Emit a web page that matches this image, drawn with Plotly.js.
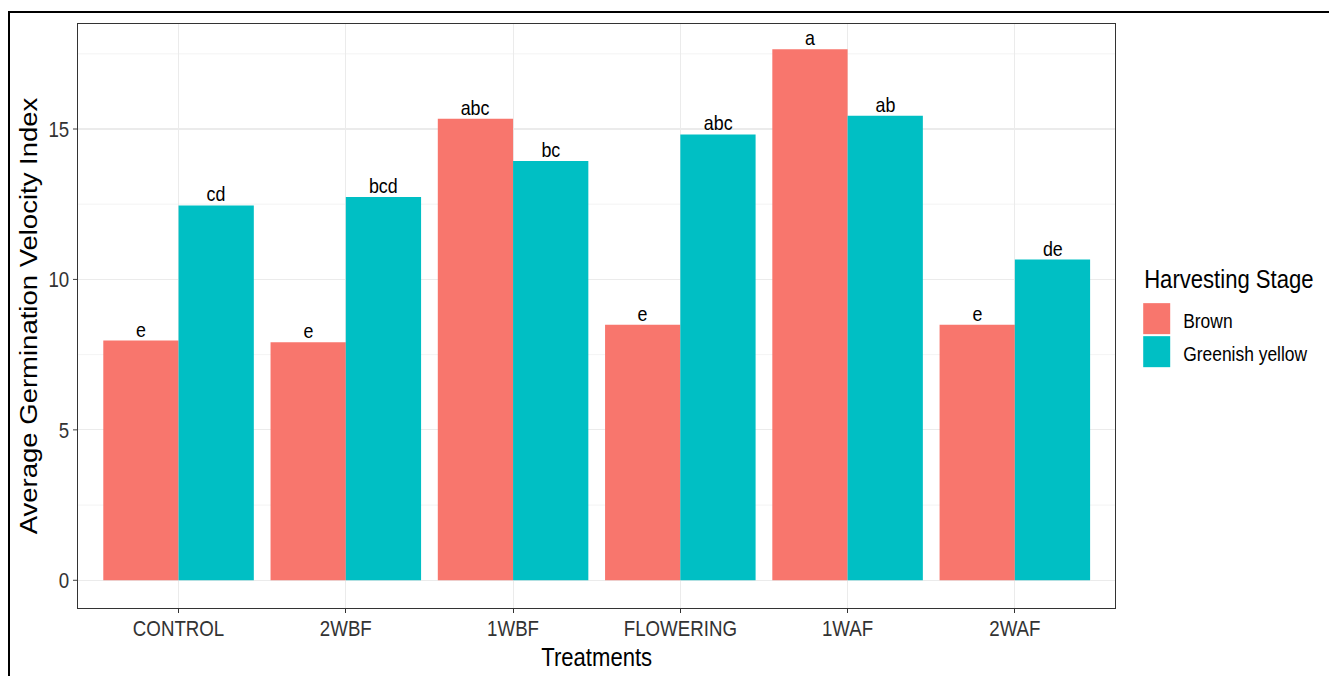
<!DOCTYPE html>
<html>
<head>
<meta charset="utf-8">
<script src="https://cdn.plot.ly/plotly-3.0.1.min.js"></script>
<style>
  html, body { margin: 0; padding: 0; background: #fff; overflow: hidden; }
  #wrap { position: absolute; left: 0; top: 0; width: 1329px; height: 676px; overflow: hidden; }
  #chart { transform-origin: 0 0; }
  #frame { position: absolute; left: 8px; top: 11px; width: 1400px; height: 700px;
           border-top: 2px solid #000; border-left: 2px solid #000; pointer-events: none; }
</style>
</head>
<body>
<div id="wrap"><div id="chart"></div></div>
<div id="frame"></div>
<script>
// ---- data ----
const treatments = ["CONTROL", "2WBF", "1WBF", "FLOWERING", "1WAF", "2WAF"];
const seriesNames = ["Brown", "Greenish yellow"];
const brownValues = [7.97, 7.91, 15.34, 8.49, 17.65, 8.49];
const greenValues = [12.46, 12.74, 13.94, 14.82, 15.44, 10.66];
const brownLetters = ["e", "e", "abc", "e", "a", "e"];
const greenLetters = ["cd", "bcd", "bc", "abc", "ab", "de"];
const seriesColors = ["#F8766D", "#00BFC4"];
const yTicks = [0, 5, 10, 15];

const FONT = "Liberation Sans, Arial, sans-serif";

// the reference is rendered slightly condensed horizontally
const SX = 0.85;
const W = 1329, H = 676;
const WU = W / SX;

// plot area in (real) pixels
const L = 78, R = 1115, T = 24, B = 607.7;
const px = v => (v - L) / (R - L);
const py = v => (B - v) / (B - T);

const traces = [
  { type: "bar", name: seriesNames[0], x: treatments, y: brownValues,
    marker: { color: seriesColors[0], line: { width: 0 } }, showlegend: false },
  { type: "bar", name: seriesNames[1], x: treatments, y: greenValues,
    marker: { color: seriesColors[1], line: { width: 0 } }, showlegend: false }
];

const annotations = [];
// significance letters above the bars
const offsets = [-0.225, 0.225];
[brownLetters, greenLetters].forEach((letters, s) => {
  const vals = s === 0 ? brownValues : greenValues;
  letters.forEach((t, i) => {
    annotations.push({ xref: "x", yref: "y", x: i + offsets[s], y: vals[i],
      xanchor: "center", yanchor: "bottom", yshift: -2, text: t, showarrow: false,
      font: { family: FONT, size: 21, color: "#000" } });
  });
});

// custom legend (ggplot style large keys)
const shapes = [];
annotations.push({ xref: "paper", yref: "paper", x: px(1142), y: py(279), xanchor: "left", yanchor: "middle",
  text: "Harvesting Stage", showarrow: false, font: { family: FONT, size: 26, color: "#000" } });
const keyTops = [303, 336];
seriesNames.forEach((n, i) => {
  shapes.push({ type: "rect", xref: "paper", yref: "paper",
    x0: px(1143), x1: px(1170), y0: py(keyTops[i]), y1: py(keyTops[i] + 31),
    fillcolor: seriesColors[i], line: { width: 0 } });
  annotations.push({ xref: "paper", yref: "paper", x: px(1181), y: py(keyTops[i] + 17),
    xanchor: "left", yanchor: "middle", text: n, showarrow: false,
    font: { family: FONT, size: 20.5, color: "#000" } });
});

const layout = {
  width: WU, height: H,
  margin: { l: L / SX, r: (W - R) / SX, t: T, b: H - B, pad: 0 },
  paper_bgcolor: "rgba(0,0,0,0)", plot_bgcolor: "#fff",
  font: { family: FONT },
  barmode: "group", bargap: 0.1, bargroupgap: 0,
  showlegend: false,
  xaxis: {
    type: "category", categoryorder: "array", categoryarray: treatments,
    range: [-0.6, 5.6],
    showline: true, mirror: true, linecolor: "#333", linewidth: 1.4,
    showgrid: true, gridcolor: "#ebebeb", gridwidth: 1.2,
    ticks: "outside", ticklen: 4, tickcolor: "#333", tickwidth: 1.2,
    ticklabelstandoff: -4,
    tickfont: { family: FONT, size: 22, color: "#333" },
    title: { text: "Treatments", font: { family: FONT, size: 26, color: "#000" }, standoff: 8 },
    automargin: false, zeroline: false
  },
  yaxis: {
    range: [-0.921, 18.49], tickvals: yTicks,
    showline: true, mirror: true, linecolor: "#333", linewidth: 1.4,
    showgrid: true, gridcolor: "#ebebeb", gridwidth: 1.2,
    minor: { tickvals: [2.5, 7.5, 12.5, 17.5], showgrid: true, gridcolor: "#f2f2f2", gridwidth: 1, ticks: "" },
    ticks: "outside", ticklen: 4.7, tickcolor: "#333", tickwidth: 1,
    tickfont: { family: FONT, size: 22, color: "#333" },
    title: { text: "Average Germination Velocity Index", font: { family: FONT, size: 27.5, color: "#000" }, standoff: 4 },
    automargin: false, zeroline: false
  },
  shapes: shapes,
  annotations: annotations
};

const el = document.getElementById("chart");
el.style.transform = "scaleX(" + SX + ")";
Plotly.newPlot(el, traces, layout, { displayModeBar: false, staticPlot: true });
</script>
</body>
</html>
